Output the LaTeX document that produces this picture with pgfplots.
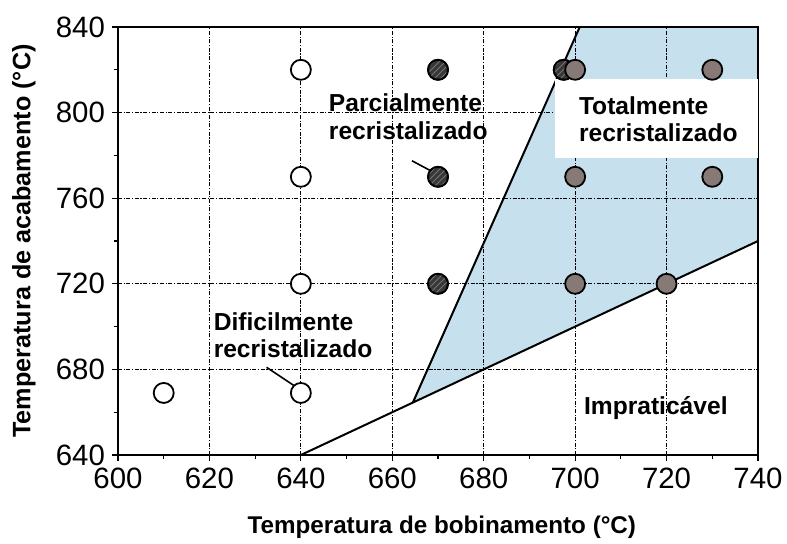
\documentclass[border=0pt]{standalone}
\usepackage{fontspec}
\setmainfont{Liberation Sans}
\usepackage{pgfplots}
\pgfplotsset{compat=1.18}
\usetikzlibrary{patterns}

\definecolor{regionblue}{RGB}{198,224,237}
\definecolor{fullgray}{RGB}{135,122,118}
\definecolor{partdark}{RGB}{55,55,55}

\pgfplotstableread{
x y
610 669
640 669
640 720
640 770
640 820
}\difficult

\pgfplotstableread{
x y
670 820
670 770
670 720
697.5 820
}\partial

\pgfplotstableread{
x y
700 820
700 770
700 720
720 720
730 820
730 770
}\full

\begin{document}
\begin{tikzpicture}
\begin{axis}[
  set layers,
  at={(0,0)}, anchor=south west,
  scale only axis,
  width=320pt, height=214pt,
  xmin=600, xmax=740, ymin=640, ymax=840,
  xtick distance=20, ytick distance=40,
  minor x tick num=1, minor y tick num=1,
  xtick pos=bottom, ytick pos=left,
  tick align=outside,
  major tick length=3pt, minor tick length=2pt,
  tick style={black, line width=0.6pt},
  axis line style={line width=0.9pt},
  grid=major,
  major grid style={black, line width=0.6pt,
    dash pattern=on 2pt off 0.8pt on 0.6pt off 0.8pt},
  /pgf/number format/assume math mode=true,
  /pgf/number format/set thousands separator={},
  ticklabel style={font=\fontsize{14.7}{16}\selectfont},
  xlabel={\bfseries Temperatura de bobinamento (°C)},
  ylabel={\bfseries Temperatura de acabamento (°C)},
  xlabel style={font=\fontsize{12.1}{14}\selectfont,
    at={(axis description cs:0.506,-0.168)}, anchor=center},
  ylabel style={font=\fontsize{12.6}{14}\selectfont,
    at={(axis description cs:-0.147,0.5)}, anchor=center},
  clip=false,
]
% fully recrystallized region
\addplot[on layer=axis background, draw=none, fill=regionblue]
  coordinates {(664.5,664.5) (701,840) (740,840) (740,740) (664.5,664.5)};

% boundaries
\addplot[black, line width=1pt] coordinates {(640,640) (740,740)};
\addplot[black, line width=1pt] coordinates {(664.5,664.5) (701,840)};

% label box over the shaded area
\fill[white] (axis cs:695.6,779) rectangle (axis cs:740,815.5);

\node[anchor=west, align=left, font=\bfseries\fontsize{12.3}{13.7}\selectfont]
  at (axis cs:644.6,798) {Parcialmente\\recristalizado};
\node[anchor=west, align=left, font=\bfseries\fontsize{12.3}{13.7}\selectfont]
  at (axis cs:699.3,797) {Totalmente\\recristalizado};
\node[anchor=west, align=left, font=\bfseries\fontsize{12.3}{13.7}\selectfont]
  at (axis cs:619.4,696) {Dificilmente\\recristalizado};
\node[anchor=west, font=\bfseries\fontsize{12.3}{13.7}\selectfont]
  at (axis cs:700.4,662) {Impraticável};

% leader lines
\draw[black, line width=0.8pt] (axis cs:664.3,777.5) -- (axis cs:670,771);
\draw[black, line width=0.8pt] (axis cs:632.5,681) -- (axis cs:638.8,672);

% samples
\addplot[only marks, mark=*, mark size=5pt,
  mark options={draw=black, fill=white, line width=0.9pt}]
  table {\difficult};
\addplot[only marks, mark=*, mark size=5pt,
  mark options={draw=black, fill=partdark, line width=0.9pt}]
  table {\partial};
\addplot[only marks, mark=*, mark size=5pt,
  mark options={draw=black, line width=0.9pt,
    pattern=north east lines, pattern color=black!55}]
  table {\partial};
\addplot[only marks, mark=*, mark size=5pt,
  mark options={draw=black, fill=fullgray, line width=0.9pt}]
  table {\full};
\end{axis}
\pgfresetboundingbox
\path (-59pt,-44pt) rectangle (334.5pt,227.5pt);
\end{tikzpicture}
\end{document}
